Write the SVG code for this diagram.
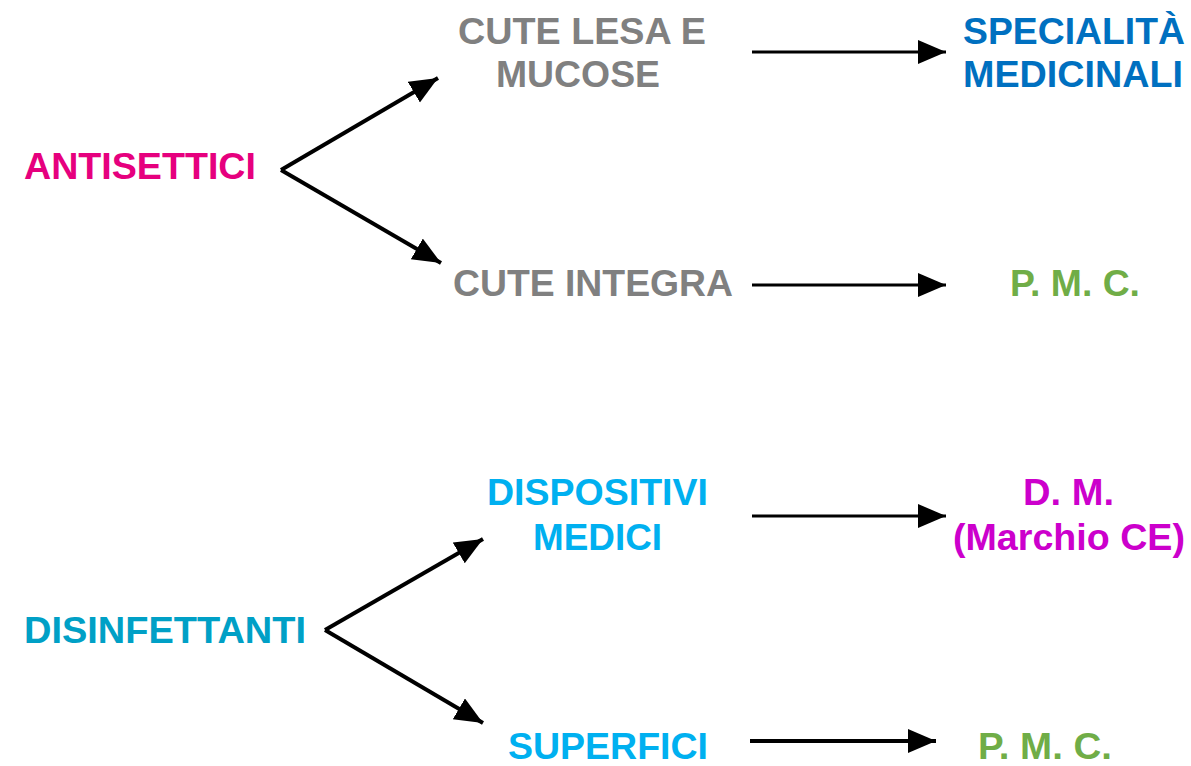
<svg xmlns="http://www.w3.org/2000/svg" width="1191" height="766" viewBox="0 0 1191 766">
<defs>
<marker id="ah" markerUnits="userSpaceOnUse" markerWidth="30" markerHeight="26" refX="28" refY="12" orient="auto">
<path d="M0,0 L28,12 L0,24 Z" fill="#000"/>
</marker>
<style>
text{font-family:"Liberation Sans",Arial,sans-serif;font-weight:bold;font-size:37px}
.gray{fill:#808080}
.pink{fill:#E6007E}
.blue{fill:#0070C0}
.green{fill:#70AD47}
.teal{fill:#00A0C6}
.cyan{fill:#00B0F0}
.mag{fill:#CC00CC}
.ln{stroke:#000;stroke-width:3;fill:none;marker-end:url(#ah)}
.ln4{stroke:#000;stroke-width:4;fill:none;marker-end:url(#ah)}
</style>
</defs>
<rect width="1191" height="766" fill="#fff"/>
<g id="connectors">
<line class="ln4" x1="281" y1="170" x2="438" y2="78"/>
<line class="ln4" x1="281" y1="170" x2="441" y2="263"/>
<line class="ln4" x1="325" y1="630" x2="483" y2="539"/>
<line class="ln4" x1="325" y1="630" x2="483" y2="723"/>
<line class="ln" x1="752" y1="52" x2="946" y2="52"/>
<line class="ln" x1="752" y1="285" x2="946" y2="285"/>
<line class="ln" x1="752" y1="516" x2="946" y2="516"/>
<line class="ln4" x1="750" y1="741" x2="936" y2="741"/>
</g>
<g id="antisettici"><text class="pink" x="24" y="179" textLength="232" lengthAdjust="spacingAndGlyphs">ANTISETTICI</text></g>
<g id="cute-lesa">
<text class="gray" x="458" y="44" textLength="248" lengthAdjust="spacingAndGlyphs">CUTE LESA E</text>
<text class="gray" x="496" y="87" textLength="164" lengthAdjust="spacingAndGlyphs">MUCOSE</text>
</g>
<g id="cute-integra"><text class="gray" x="453" y="296" textLength="280" lengthAdjust="spacingAndGlyphs">CUTE INTEGRA</text></g>
<g id="specialita">
<text class="blue" x="963" y="44" textLength="222" lengthAdjust="spacingAndGlyphs">SPECIALITÀ</text>
<text class="blue" x="963" y="87" textLength="220" lengthAdjust="spacingAndGlyphs">MEDICINALI</text>
</g>
<g id="pmc1"><text class="green" x="1010" y="296" textLength="130" lengthAdjust="spacingAndGlyphs">P. M. C.</text></g>
<g id="disinfettanti"><text class="teal" x="24" y="643" textLength="282" lengthAdjust="spacingAndGlyphs">DISINFETTANTI</text></g>
<g id="dispositivi">
<text class="cyan" x="487" y="505" textLength="221" lengthAdjust="spacingAndGlyphs">DISPOSITIVI</text>
<text class="cyan" x="533" y="550" textLength="129" lengthAdjust="spacingAndGlyphs">MEDICI</text>
</g>
<g id="dm">
<text class="mag" x="1023" y="505" textLength="91" lengthAdjust="spacingAndGlyphs">D. M.</text>
<text class="mag" x="953" y="550" textLength="232" lengthAdjust="spacingAndGlyphs">(Marchio CE)</text>
</g>
<g id="superfici"><text class="cyan" x="508" y="759" textLength="200" lengthAdjust="spacingAndGlyphs">SUPERFICI</text></g>
<g id="pmc2"><text class="green" x="978" y="759" textLength="134" lengthAdjust="spacingAndGlyphs">P. M. C.</text></g>
</svg>
